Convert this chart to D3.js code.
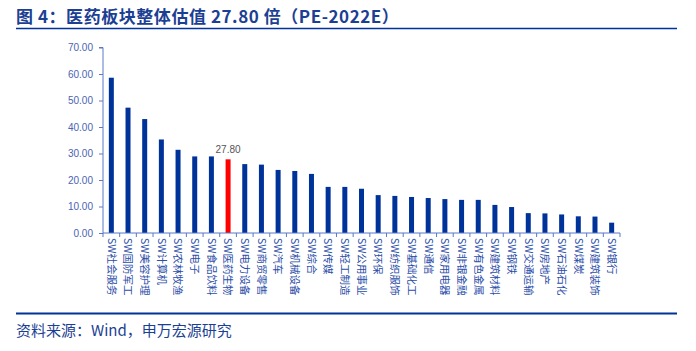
<!DOCTYPE html>
<html>
<head>
<meta charset="utf-8">
<script src="https://cdn.jsdelivr.net/npm/d3@7"></script>
<style>
  body { margin: 0; background: #fff; }
  svg { display: block; font-family: "Liberation Sans", Arial, "Noto Sans CJK SC", sans-serif; }
  .title { font-family: "Noto Sans CJK SC", sans-serif; font-weight: bold; }
  .source { font-family: "Noto Sans CJK SC", sans-serif; }
  .x-axis text { font-family: "Noto Sans CJK SC", sans-serif; }
</style>
</head>
<body>
<div id="chart"></div>
<script>
const categories = ["SW社会服务","SW国防军工","SW美容护理","SW计算机","SW农林牧渔","SW电子","SW食品饮料","SW医药生物",
  "SW电力设备","SW商贸零售","SW汽车","SW机械设备","SW综合","SW传媒","SW轻工制造","SW公用事业","SW环保","SW纺织服饰",
  "SW基础化工","SW通信","SW家用电器","SW非银金融","SW有色金属","SW建筑材料","SW钢铁","SW交通运输","SW房地产",
  "SW石油石化","SW煤炭","SW建筑装饰","SW银行"];
const peValues = [58.6,47.3,43.0,35.3,31.4,28.9,28.9,27.8,26.0,25.8,23.8,23.4,22.3,17.4,17.4,16.7,14.3,14.0,
  13.6,13.2,12.8,12.5,12.5,10.6,9.8,7.5,7.4,7.0,6.3,6.2,3.9];
const highlight = "SW医药生物";
const yTicks = [0,10,20,30,40,50,60,70];

const svgWidth = 696, svgHeight = 351;
const blue = "#00339a";
const axisColor = "#5a78c8";

const svg = d3.select("#chart").append("svg")
  .attr("width", svgWidth)
  .attr("height", svgHeight);

// title + rules
svg.append("text")
  .attr("class", "title")
  .attr("x", 16).attr("y", 23)
  .attr("fill", "#1c3f94")
  .attr("font-size", 17)
  .attr("letter-spacing", 0.55)
  .text("图 4：医药板块整体估值 27.80 倍（PE-2022E）");
svg.append("line")
  .attr("x1", 16).attr("x2", 677).attr("y1", 28.5).attr("y2", 28.5)
  .attr("stroke", blue).attr("stroke-width", 1.5);
svg.append("line")
  .attr("x1", 16).attr("x2", 677).attr("y1", 313.5).attr("y2", 313.5)
  .attr("stroke", blue).attr("stroke-width", 2);
svg.append("text")
  .attr("class", "source")
  .attr("x", 16).attr("y", 336)
  .attr("fill", "#1c3f94")
  .attr("font-size", 15)
  .text("资料来源：Wind，申万宏源研究");

const xScale = d3.scaleBand().domain(categories).range([103, 620]).padding(0);
const yScale = d3.scaleLinear().domain([0, 70]).range([233, 47.5]);
const barWidth = 5;

// bars
svg.selectAll(".bar")
  .data(categories)
  .enter()
  .append("rect")
  .attr("class", "bar")
  .attr("x", d => xScale(d) + xScale.bandwidth() / 2 - barWidth / 2)
  .attr("width", barWidth)
  .attr("y", (d, i) => yScale(peValues[i]))
  .attr("height", (d, i) => yScale(0) - yScale(peValues[i]))
  .attr("fill", d => d === highlight ? "#ff0000" : blue);

// value label for highlighted bar
const hi = categories.indexOf(highlight);
svg.append("text")
  .attr("x", xScale(highlight) + xScale.bandwidth() / 2)
  .attr("y", yScale(peValues[hi]) - 6)
  .attr("text-anchor", "middle")
  .attr("fill", "#555")
  .attr("font-size", 10)
  .text(peValues[hi].toFixed(2));

// y axis
const yAxis = d3.axisLeft(yScale).tickValues(yTicks).tickFormat(d3.format(".2f")).tickSize(4).tickPadding(6);
const gy = svg.append("g").attr("class", "y-axis").attr("transform", "translate(103,0)").call(yAxis);
gy.select(".domain").attr("stroke", axisColor).attr("d", `M-4,${yScale(70)}H0V${yScale(0)}`);
gy.selectAll(".tick line").attr("stroke", axisColor);
gy.selectAll(".tick text").attr("fill", "#4a64b4").attr("font-size", 10);

// x axis: boundary ticks + rotated labels
const xAxis = d3.axisBottom(xScale).tickSize(0).tickPadding(0);
const gx = svg.append("g").attr("class", "x-axis").attr("transform", `translate(0,${yScale(0)})`).call(xAxis);
gx.select(".domain").attr("stroke", axisColor).attr("d", `M103,0H620`);
gx.selectAll(".tick text")
  .attr("fill", "#2b4ea8")
  .attr("font-size", 10.5)
  .attr("text-anchor", "start")
  .attr("transform", "rotate(90)")
  .attr("x", 5)
  .attr("y", 0)
  .attr("dy", "0.35em");
gx.selectAll(".boundary")
  .data(categories.concat(["end"]))
  .enter()
  .append("line")
  .attr("class", "boundary")
  .attr("x1", (d, i) => 103 + i * xScale.step())
  .attr("x2", (d, i) => 103 + i * xScale.step())
  .attr("y1", 0).attr("y2", 4)
  .attr("stroke", axisColor);
</script>
</body>
</html>
